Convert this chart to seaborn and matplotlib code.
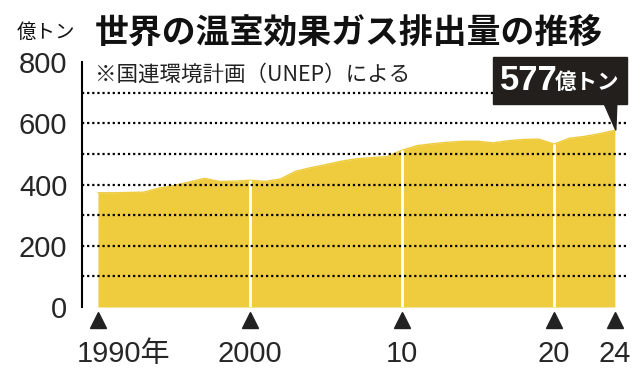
import matplotlib
matplotlib.use('Agg')
import matplotlib.pyplot as plt
import matplotlib.transforms as mtransforms
from matplotlib.patches import Rectangle, Polygon
import numpy as np
import seaborn as sns

# 世界の温室効果ガス排出量（億トン） UNEP
years = list(range(1990, 2025))
emissions = [373, 373, 374, 375, 388, 397, 408, 420, 410, 411,
             414, 410, 418, 443, 455, 465, 476, 484, 488, 491,
             512, 527, 533, 538, 541, 541, 536, 543, 547, 548,
             532, 551, 557, 566, 577]
label_years = [1990, 2000, 2010, 2020, 2024]
label_texts = ['1990年', '2000', '10', '20', '24']
divider_years = [2000, 2010, 2020]

title = '世界の温室効果ガス排出量の推移'
source = '※国連環境計画（UNEP）による'
unit = '億トン'

yellow = '#EFCB3E'

sns.set_style('white')
plt.rcParams['font.family'] = ['Noto Sans CJK JP', 'DejaVu Sans']

fig = plt.figure(figsize=(6.4, 3.76), dpi=100)
ax = fig.add_axes([82 / 640, 69 / 376, 545 / 640, 245 / 376])

ax.fill_between(years, emissions, 0, color=yellow, lw=0, zorder=1)
sns.lineplot(x=years, y=emissions, color=yellow, lw=1, ax=ax, zorder=1)

# white separators at decades
for yr in divider_years:
    ax.vlines(yr, 0, emissions[years.index(yr)], color='white', lw=2, zorder=2)

# dotted grid
for g in range(100, 800, 100):
    ax.axhline(g, color='black', ls=(0, (1, 1.3)), lw=1.6, zorder=3)

ax.set_xlim(1988.95, 2024.8)
ax.set_ylim(0, 800)

for s in ['top', 'right', 'bottom']:
    ax.spines[s].set_visible(False)
ax.spines['left'].set_color('black')
ax.spines['left'].set_linewidth(1.5)

ax.set_yticks(range(0, 801, 200))
ax.set_yticks(range(100, 800, 200), minor=True)
ax.tick_params(axis='y', which='both', direction='out', length=7, width=1.5,
               color='black', pad=3.5, labelsize=21)
for lab in ax.get_yticklabels():
    lab.set_fontfamily(['Liberation Sans', 'DejaVu Sans'])

ax.set_xticks(label_years)
ax.set_xticklabels(label_texts)
ax.tick_params(axis='x', length=0, pad=24, labelsize=21)
for lab in ax.get_xticklabels():
    lab.set_fontfamily(['Liberation Sans', 'Noto Sans CJK JP'])
first = ax.get_xticklabels()[0]
first.set_transform(first.get_transform() +
                    mtransforms.ScaledTranslation(26 / 100, 0, fig.dpi_scale_trans))

# triangles under the axis
ax.plot(label_years, [-0.053] * len(label_years), ls='none', marker='^',
        ms=12, color='#222222', transform=ax.get_xaxis_transform(), clip_on=False)

# titles
fig.text(95 / 640, 1 - 33 / 376, title, fontsize=24.4, fontweight='bold',
         va='center', ha='left', color='#111111')
fig.text(17 / 640, 1 - 32 / 376, unit, fontsize=14, va='center', ha='left',
         color='#111111')
fig.text(95 / 640, 1 - 75 / 376, source, fontsize=15.5, va='center', ha='left',
         color='#222222')

# callout on last value
fig.canvas.draw()
tip = ax.transData.transform((years[-1], emissions[-1]))
H = fig.bbox.height
box_l, box_r, box_t, box_b = 493, 627, H - 57, H - 104
fig.patches.append(Rectangle((box_l / 640, box_b / H), (box_r - box_l) / 640,
                             (box_t - box_b) / H, transform=fig.transFigure,
                             color='#231f1c', zorder=5))
fig.patches.append(Polygon([(tip[0] - 11, box_b + 1), (tip[0] + 2, box_b + 1),
                            (tip[0] + 1, tip[1])], closed=True,
                           transform=None, color='#231f1c', zorder=5))
fig.text(500 / 640, (box_t + box_b) / 2 / H, f'{emissions[-1]}', fontsize=25,
         fontweight='bold', color='white', va='center', ha='left',
         family=['Liberation Sans', 'DejaVu Sans'], zorder=6)
fig.text(555 / 640, (box_t + box_b) / 2 / H - 0.006, unit, fontsize=15.5,
         fontweight='bold', color='white', va='center', ha='left', zorder=6)

fig.savefig('out.png', dpi=100)
